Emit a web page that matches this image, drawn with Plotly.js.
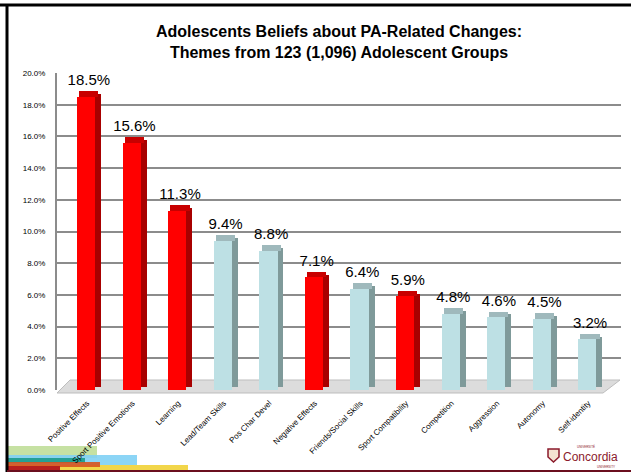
<!DOCTYPE html>
<html>
<head>
<meta charset="utf-8">
<script src="https://cdn.plot.ly/plotly-3.0.1.min.js"></script>
<style>html,body{margin:0;padding:0;background:#fff}#chart{width:631px;height:474px}</style>
</head>
<body>
<div id="chart"></div>
<script>
// ---- data ----
const categories = ["Positive Effects","Sport Positive Emotions","Learning","Lead/Team Skills","Pos Char Devel","Negative Effects","Friends/Social Skills","Sport Compatibility","Competition","Aggression","Autonomy","Self-identity"];
const values = [18.5, 15.6, 11.3, 9.4, 8.8, 7.1, 6.4, 5.9, 4.8, 4.6, 4.5, 3.2];
const isRed = [true, true, true, false, false, true, false, true, false, false, false, false];
const yTicks = [0, 2, 4, 6, 8, 10, 12, 14, 16, 18, 20];
const chartTitle = "<b>Adolescents Beliefs about PA-Related Changes:</b><br><b>Themes from 123 (1,096) Adolescent Groups</b>";

// ---- styling ----
const FRONT_RED = "#ff0000", SIDE_RED = "#a80000", TOP_RED = "#c80000";
const FRONT_BLUE = "#bde0e4", SIDE_BLUE = "#7f9a9a", TOP_BLUE = "#9fb9bc";
const frontCol = isRed.map(r => r ? FRONT_RED : FRONT_BLUE);
const sideCol = isRed.map(r => r ? SIDE_RED : SIDE_BLUE);
const topCol = isRed.map(r => r ? TOP_RED : TOP_BLUE);
const depth = 0.35;
const font = "Liberation Sans, Arial, sans-serif";

const frontTrace = {type:"bar", x:categories, y:values, width:0.40, offset:-0.22,
  marker:{color:frontCol, line:{width:0}}, hoverinfo:"skip"};
const sideTrace = {type:"bar", x:categories, y:values, base:values.map(() => depth*0.5), width:0.13, offset:0.18,
  marker:{color:sideCol, line:{width:0}}, hoverinfo:"skip"};
const topTrace = {type:"bar", x:categories, y:values.map(() => depth), base:values, width:0.42, offset:-0.17,
  marker:{color:topCol, line:{width:0}}, hoverinfo:"skip",
  text:values.map(v => v.toFixed(1) + "%"), textposition:"outside", cliponaxis:false,
  constraintext:"none", textfont:{family:font, size:15, color:"#000"}};

// px -> paper helpers (plot area: x 57..621, y 73..390)
const L = 57, R = 10, T = 73, B = 84, W = 631, H = 474;
const pw = W - L - R, ph = H - T - B;
const px = v => (v - L) / pw;
const py = v => (H - B - v) / ph;

function rect(x0, y0, x1, y1, color, opacity) {
  return {type:"rect", xref:"paper", yref:"paper", x0:px(x0), x1:px(x1), y0:py(y1), y1:py(y0),
    fillcolor:color, opacity:opacity === undefined ? 1 : opacity, line:{width:0}, layer:"below"};
}

const shapes = [
  // floor
  {type:"path", xref:"paper", yref:"paper", layer:"below",
   path:`M ${px(57)} ${py(393)} L ${px(603)} ${py(393)} L ${px(620)} ${py(380)} L ${px(70)} ${py(380)} Z`,
   fillcolor:"#dcdcdc", line:{color:"#bdbdbd", width:1}},
  // slide border
  {type:"line", xref:"paper", yref:"paper", x0:px(0), x1:px(631), y0:py(5), y1:py(5), line:{color:"#000", width:3}},
  {type:"line", xref:"paper", yref:"paper", x0:px(7), x1:px(7), y0:py(4), y1:py(472), line:{color:"#000", width:3}},
  {type:"line", xref:"paper", yref:"paper", x0:px(7), x1:px(631), y0:py(471), y1:py(471), line:{color:"#6b0f1f", width:2}},
  // decorative strips bottom-left
  rect(8, 446, 97, 458, "#b8d98c", 0.8),
  rect(8, 455, 137, 465, "#7fd0f5", 0.9),
  rect(8, 465, 188, 470, "#f2d64a", 1),
  rect(8, 458, 85, 463, "#1a9a8a", 0.9),
  rect(8, 462, 100, 467, "#d8531f", 0.9),
  rect(8, 466, 60, 470, "#b81f1f", 1),
  // logo shield
  {type:"path", xref:"paper", yref:"paper",
   path:`M ${px(548)} ${py(449)} L ${px(559)} ${py(449)} L ${px(559)} ${py(457)} L ${px(553.5)} ${py(462)} L ${px(548)} ${py(457)} Z`,
   fillcolor:"#f3e3d0", line:{color:"#8b1a2b", width:1.5}}
];

const annotations = [
  {xref:"paper", yref:"paper", x:px(561), y:py(456.5), text:"Concordia", showarrow:false,
   xanchor:"left", yanchor:"middle", font:{family:font, size:12, color:"#8b1a2b"}},
  {xref:"paper", yref:"paper", x:px(586), y:py(446), text:"UNIVERSITÉ", showarrow:false,
   xanchor:"center", yanchor:"middle", font:{family:font, size:3, color:"#8b1a2b"}},
  {xref:"paper", yref:"paper", x:px(606), y:py(467), text:"UNIVERSITY", showarrow:false,
   xanchor:"center", yanchor:"middle", font:{family:font, size:3, color:"#8b1a2b"}}
];

const layout = {
  width:W, height:H,
  margin:{l:L, r:R, t:T, b:B, pad:0},
  paper_bgcolor:"#fff", plot_bgcolor:"rgba(0,0,0,0)",
  barmode:"overlay", bargap:0,
  showlegend:false,
  title:{text:chartTitle, x:0.5, xref:"paper", xanchor:"center", y:0.922, yanchor:"middle",
    font:{family:font, size:16, color:"#000"}},
  xaxis:{type:"category", range:[-0.66, 11.72], tickangle:-45, showgrid:false, zeroline:false,
    showline:false, ticks:"", ticklabelstandoff:6, tickfont:{family:font, size:8, color:"#000"}, fixedrange:true},
  yaxis:{range:[0, 20], tickvals:yTicks, ticktext:yTicks.map(v => v.toFixed(1) + "%"),
    showgrid:true, gridcolor:"#8c8c8c", gridwidth:2, zeroline:false,
    showline:true, linecolor:"#8c8c8c", linewidth:2, ticks:"", ticklen:0, ticklabelstandoff:8,
    tickfont:{family:font, size:8, color:"#000"}, fixedrange:true},
  shapes:shapes, annotations:annotations
};

Plotly.newPlot("chart", [sideTrace, frontTrace, topTrace], layout, {displayModeBar:false, staticPlot:true});
</script>
</body>
</html>
